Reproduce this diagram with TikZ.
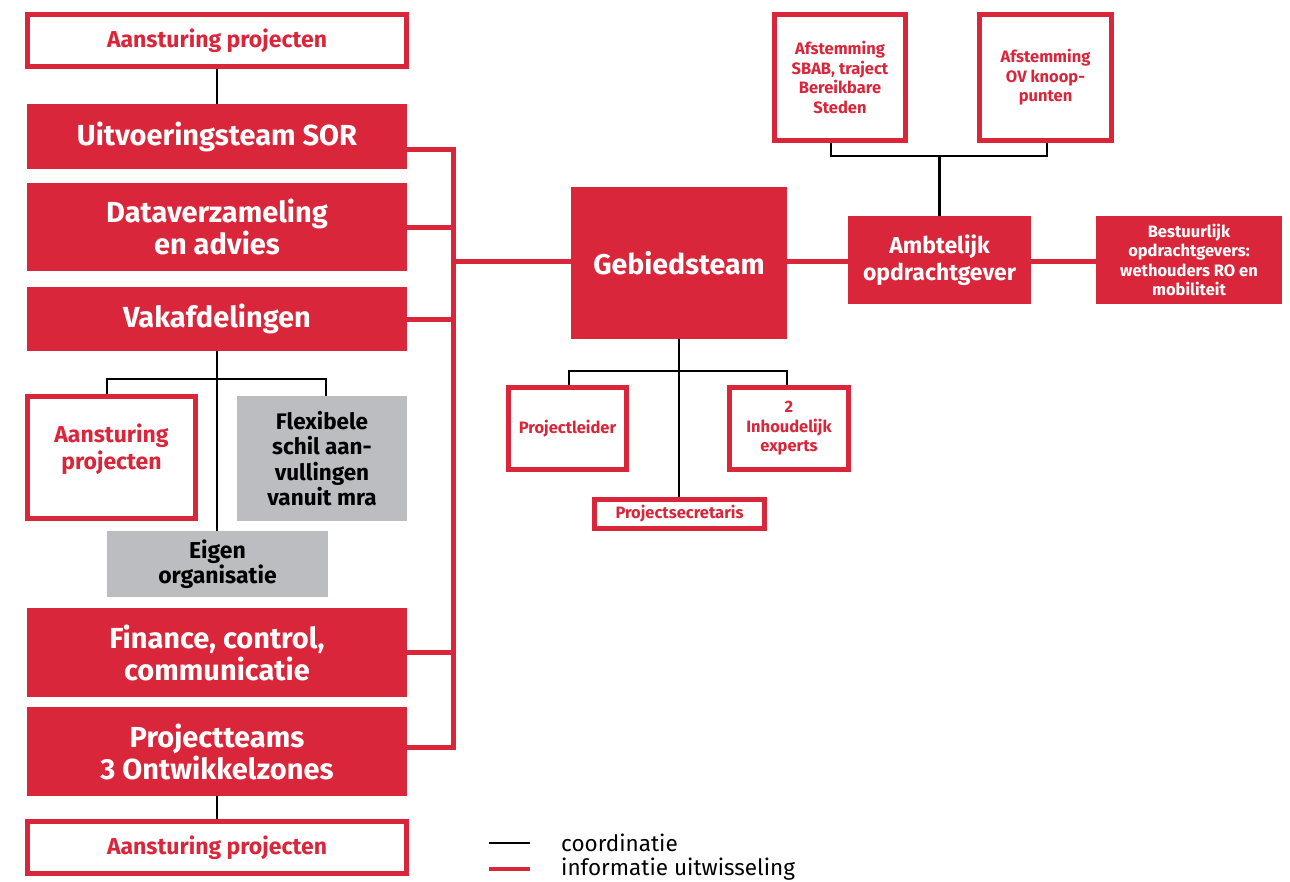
\documentclass[tikz,border=0pt]{standalone}
\usepackage{fontspec}
\setmainfont{Fira Sans}
\definecolor{srred}{RGB}{218,38,58}
\definecolor{srgray}{RGB}{188,189,192}
\tikzset{
  redbox/.style={fill=srred,text=white,font=\bfseries\fontsize{29}{32}\selectfont,align=center,inner sep=0pt},
  outbox/.style={draw=srred,line width=5pt,fill=white,text=srred,font=\bfseries\fontsize{23}{26}\selectfont,align=center,inner sep=0pt},
  smallout/.style={outbox,font=\bfseries\fontsize{16.5}{19.5}\selectfont},
  graybox/.style={fill=srgray,text=black,font=\bfseries\fontsize{22.5}{25.5}\selectfont,align=center,inner sep=0pt},
  coordln/.style={draw=black,line width=2.6pt},
  infoln/.style={draw=srred,line width=5pt},
}
\begin{document}
\begin{tikzpicture}[x=1pt,y=-1pt]
\useasboundingbox (0,0) rectangle (1290,881);
% left column
\node[outbox,minimum width=379pt,minimum height=52pt] (aTop) at (217,40.5) {Aansturing projecten};
\node[redbox,minimum width=380pt,minimum height=65pt] (uit) at (217,136.5) {Uitvoeringsteam SOR};
\node[redbox,minimum width=380pt,minimum height=88pt] (data) at (217,227) {Dataverzameling\\en advies};
\node[redbox,minimum width=380pt,minimum height=64pt] (vak) at (217,319) {Vakafdelingen};
\node[outbox,minimum width=168pt,minimum height=122pt] (aMid) at (111.5,457.5) {\raisebox{7pt}[\height][\depth]{\begin{tabular}{@{}c@{}}Aansturing\\projecten\end{tabular}}};
\node[graybox,minimum width=170pt,minimum height=125pt] (flex) at (322,458.5) {Flexibele\\schil aan-\\vullingen\\vanuit mra};
\node[graybox,font=\bfseries\fontsize{23}{25.5}\selectfont,minimum width=221pt,minimum height=66pt] (eigen) at (217.5,564) {Eigen\\organisatie};
\node[redbox,minimum width=380pt,minimum height=89pt] (fin) at (217,652.5) {Finance, control,\\communicatie};
\node[redbox,minimum width=380pt,minimum height=89pt] (pt) at (217,751.5) {Projectteams\\3 Ontwikkelzones};
\node[outbox,minimum width=379pt,minimum height=52pt] (aBot) at (217,847.5) {Aansturing projecten};
% centre
\node[redbox,font=\bfseries\fontsize{28.5}{31}\selectfont,minimum width=216pt,minimum height=152pt] (geb) at (679,263) {Gebiedsteam};
\node[smallout,minimum width=118pt,minimum height=82pt] (pl) at (567.5,428.5) {Projectleider};
\node[smallout,minimum width=119pt,minimum height=82pt] (exp) at (789,428.5) {2\\Inhoudelijk\\experts};
\node[smallout,minimum width=170pt,minimum height=29pt] (psec) at (679.5,514) {Projectsecretaris};
% right
\node[smallout,minimum width=131pt,minimum height=126pt] (sbab) at (840,77.5) {Afstemming\\SBAB, traject\\Bereikbare\\Steden};
\node[smallout,minimum width=132pt,minimum height=126pt] (ov) at (1045.5,77.5) {Afstemming\\OV knoop-\\punten};
\node[redbox,font=\bfseries\fontsize{23}{27}\selectfont,minimum width=183pt,minimum height=88pt] (amb) at (939.5,260) {Ambtelijk\\opdrachtgever};
\node[redbox,font=\bfseries\fontsize{16.5}{19.5}\selectfont,minimum width=186pt,minimum height=88pt] (best) at (1189,260) {Bestuurlijk\\opdrachtgevers:\\wethouders RO en\\mobiliteit};
% information bus
\coordinate (busT) at (453,149);
\coordinate (busB) at (453,747);
\coordinate (rowR) at (453,261);
\draw[infoln] (uit.east |- busT) -- (busT) -- (busB) -- (pt.east |- busB);
\draw[infoln] (data.east) -- (data.east -| busT);
\draw[infoln] (vak.east) -- (vak.east -| busT);
\draw[infoln] (fin.east) -- (fin.east -| busT);
\draw[infoln] (geb.west |- rowR) -- (rowR);
\draw[infoln] (geb.east |- rowR) -- (amb.west |- rowR);
\draw[infoln] (amb.east |- rowR) -- (best.west |- rowR);
% coordination
\draw[coordln] (aTop.south) -- (uit.north);
\draw[coordln] (pt.south) -- (aBot.north);
\draw[coordln] (vak.south) -- (vak.south |- eigen.north);
\coordinate (vl) at (107,379);
\coordinate (vr) at (326,379);
\draw[coordln] (aMid.north -| vl) -- (vl) -- (vr) -- (flex.north -| vr);
\draw[coordln] (geb.south) -- (geb.south |- psec.north);
\coordinate (gl) at (569,371);
\coordinate (gr) at (787,371);
\draw[coordln] (pl.north -| gl) -- (gl) -- (gr) -- (exp.north -| gr);
\coordinate (al) at (831,156);
\coordinate (ar) at (1047,156);
\draw[coordln] (sbab.south -| al) -- (al) -- (ar) -- (ov.south -| ar);
\draw[coordln] (amb.north) -- (amb.north |- al);
% legend
\coordinate (l1a) at (489,843); \coordinate (l1b) at (530,843);
\coordinate (l2a) at (489,869); \coordinate (l2b) at (530,869);
\draw[coordln,line width=2.2pt] (l1a) -- (l1b);
\draw[infoln,line width=4pt] (l2a) -- (l2b);
\node[anchor=west,inner sep=0pt,font=\fontsize{22.5}{25}\selectfont] (lt1) at (561,843) {coordinatie};
\node[anchor=west,inner sep=0pt,font=\fontsize{22.5}{25}\selectfont] (lt2) at (561,869) {informatie uitwisseling};
\end{tikzpicture}
\end{document}
